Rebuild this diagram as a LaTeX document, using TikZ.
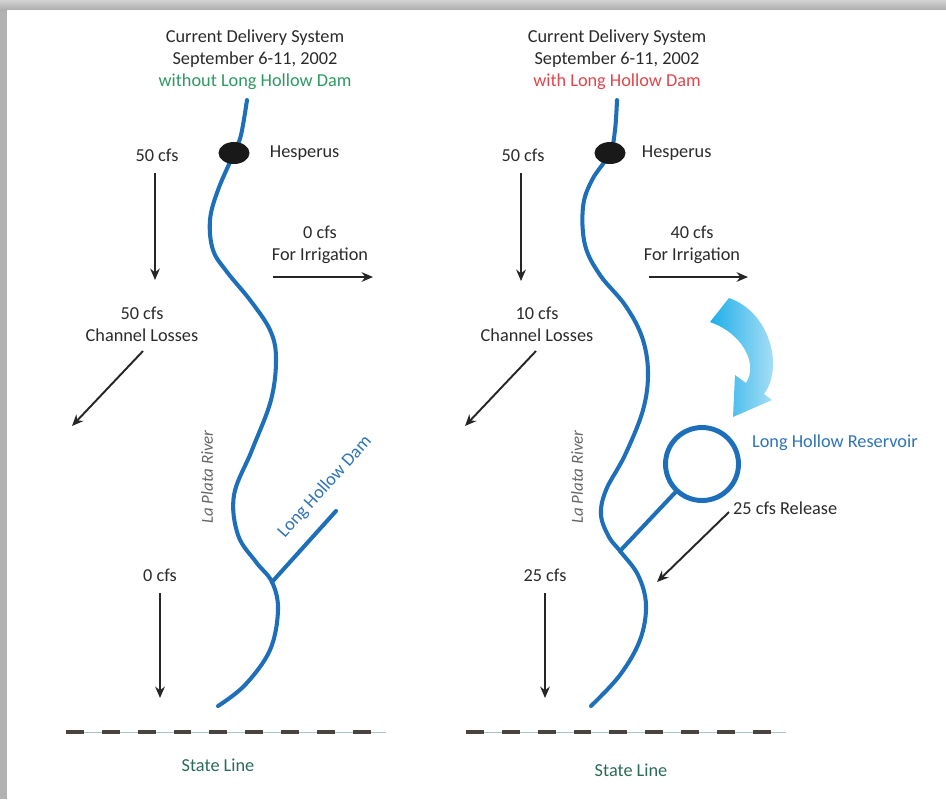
\documentclass[tikz,border=0pt]{standalone}
\usepackage{fontspec}
\setmainfont{Carlito}
\usetikzlibrary{positioning, arrows.meta, shapes.geometric}
\definecolor{riverblue}{HTML}{1E6FBA}
\definecolor{labelblue}{HTML}{2F74B6}
\definecolor{wogreen}{HTML}{2E9A63}
\definecolor{wired}{HTML}{E0474C}
\definecolor{stategreen}{HTML}{2C6B55}
\definecolor{txtgray}{HTML}{2B2B2B}
\definecolor{dashgray}{HTML}{4A4440}
\definecolor{thingray}{HTML}{A9C4C4}
\definecolor{arrowcyan}{HTML}{1FAEE8}

\begin{document}
\begin{tikzpicture}[
    x=0.02cm, y=-0.02cm,
    every node/.style={font=\fontsize{10.4}{12.5}\selectfont, text=txtgray, inner sep=1pt},
    title/.style={align=center},
    flow/.style={-{Stealth[length=6.5pt,width=5.5pt]}, line width=1.1pt, black!85},
    river/.style={riverblue, line width=2.3pt, line cap=round},
    town/.style={ellipse, fill=black!90, minimum width=0.62cm, minimum height=0.44cm},
    riverlbl/.style={rotate=90, text=black!60, font=\fontsize{9.6}{12.5}\selectfont\itshape},
    bluelbl/.style={text=labelblue},
    statelbl/.style={text=stategreen},
    statethin/.style={thingray, line width=0.5pt},
    stateline/.style={dashgray, line width=2.3pt, dash pattern=on 10.2pt off 10.2pt},
    reservoir/.style={draw=riverblue, circle, line width=2.8pt, minimum size=1.46cm, inner sep=0pt},
]
% frame
\fill[gray!60] (0,0) rectangle (946,799);
\shade[top color=gray!35, bottom color=gray!65] (0,0) rectangle (946,10);
\fill[white] (7,10) rectangle (946,799);
\useasboundingbox (0,0) rectangle (946,799);

% ---- left: without the dam ----
\node[title] (ltitle) at (255,60) {Current Delivery System\\September 6-11, 2002\\\textcolor{wogreen}{without Long Hollow Dam}};

\draw[river] plot[smooth, tension=0.6] coordinates {(247,100) (241,135) (234,153) (218,190) (210,220) (213,250) (227,272) (250,300) (270,330) (276,358) (271,400) (252,450) (234,495) (238,535) (256,562) (272,582) (278,610) (270,650) (245,685) (218,706)};
\coordinate (ljunc) at (272,582);
\coordinate (ldamend) at (336,511);
\draw[river] (ljunc) -- (ldamend);
\node[town] (lhesp) at (234,153) {};
\node[right=0.36cm of lhesp] (lhesplbl) {Hesperus};
\node[riverlbl] (lriver) at (207,477) {La Plata River};
\node[bluelbl, rotate=48] (ldamlbl) at (325,487) {Long Hollow Dam};

\node (lin) at (157,155) {50 cfs};
\coordinate (linA) at (155,173);
\coordinate (linB) at (155,280);
\node[title] (lirr) at (320,245) {0 cfs\\For Irrigation};
\coordinate (lirrA) at (273,277);
\coordinate (lirrB) at (373,277);
\node[title] (lloss) at (142,324) {50 cfs\\Channel Losses};
\coordinate (llossA) at (143,351);
\coordinate (llossB) at (72,426);
\node (lout) at (160,575) {0 cfs};
\coordinate (loutA) at (160,593);
\coordinate (loutB) at (160,698);
\draw[flow] (linA) -- (linB);
\draw[flow] (lirrA) -- (lirrB);
\draw[flow] (llossA) -- (llossB);
\draw[flow] (loutA) -- (loutB);

\coordinate (lsA) at (66,732);
\coordinate (lsB) at (386,732);
\draw[statethin] (lsA) -- (lsB);
\draw[stateline] (lsA) -- (lsB);
\node[statelbl] (lstate) at (218,765) {State Line};

% ---- right: with the dam ----
\node[title] (rtitle) at (617,60) {Current Delivery System\\September 6-11, 2002\\\textcolor{wired}{with Long Hollow Dam}};

\draw[river] plot[smooth, tension=0.6] coordinates {(617,100) (615,130) (610,153) (592,180) (583,207) (585,245) (600,275) (625,305) (642,337) (648,372) (643,410) (625,455) (606,490) (601,515) (609,537) (620,551) (638,575) (646,605) (640,640) (620,675) (591,706)};
\coordinate (rjunc) at (620,551);
\node[reservoir] (res) at (702,464) {};
\draw[river] (rjunc) -- (res);
\node[town] (rhesp) at (610,153) {};
\node[right=0.28cm of rhesp] (rhesplbl) {Hesperus};
\node[riverlbl] (rriver) at (577,477) {La Plata River};
\node[bluelbl, anchor=west] (reslbl) at (750,443) {Long Hollow Reservoir};

\node (rin) at (523,155) {50 cfs};
\coordinate (rinA) at (521,173);
\coordinate (rinB) at (521,281);
\node[title] (rirr) at (692,245) {40 cfs\\For Irrigation};
\coordinate (rirrA) at (649,277);
\coordinate (rirrB) at (748,277);
\node[title] (rloss) at (537,324) {10 cfs\\Channel Losses};
\coordinate (rlossA) at (536,351);
\coordinate (rlossB) at (465,426);
\node (rout) at (545,575) {25 cfs};
\coordinate (routA) at (545,593);
\coordinate (routB) at (545,698);
\node[anchor=west] (rrel) at (731,508) {25 cfs Release};
\coordinate (rrelA) at (729,512);
\coordinate (rrelB) at (657,582);
\draw[flow] (rinA) -- (rinB);
\draw[flow] (rirrA) -- (rirrB);
\draw[flow] (rlossA) -- (rlossB);
\draw[flow] (routA) -- (routB);
\draw[flow] (rrelA) -- (rrelB);

% diverted water into the reservoir
\shade[left color=arrowcyan, right color=arrowcyan!30] (729,298) .. controls (770,312) and (784,367) .. (764,394) -- (772,400) -- (733,417) -- (735,375) -- (746,383) .. controls (758,365) and (744,334) .. (710,322) -- cycle;

\coordinate (rsA) at (466,732);
\coordinate (rsB) at (786,732);
\draw[statethin] (rsA) -- (rsB);
\draw[stateline] (rsA) -- (rsB);
\node[statelbl] (rstate) at (631,770) {State Line};
\end{tikzpicture}
\end{document}
